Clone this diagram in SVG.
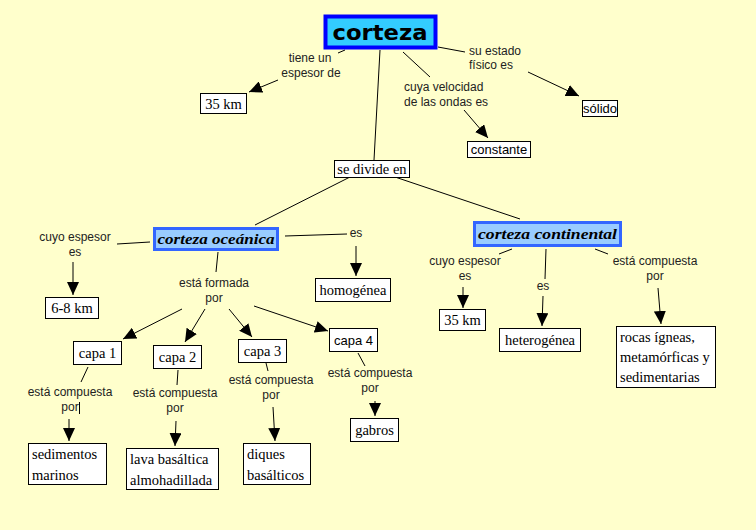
<svg xmlns="http://www.w3.org/2000/svg" width="756" height="530" viewBox="0 0 756 530">
<defs>
<marker id="ah" markerUnits="userSpaceOnUse" markerWidth="14" markerHeight="12" refX="13" refY="6" orient="auto">
<path d="M0,0 L13,6 L0,12 z" fill="#000"/>
</marker>
<style>
.lbl{font-family:"Liberation Sans",Arial,sans-serif;font-size:12px;fill:#222;text-anchor:middle}
.lbs{font-family:"Liberation Sans",Arial,sans-serif;font-size:12px;fill:#222}
.box{fill:#fff;stroke:#000;stroke-width:1}
.bt{font-family:"Liberation Serif","Times New Roman",serif;font-size:14.5px;fill:#000;text-anchor:middle}
.bts{font-family:"Liberation Sans",Arial,sans-serif;font-size:13px;fill:#000;text-anchor:middle}
.mt{font-family:"Liberation Serif","Times New Roman",serif;font-size:14.5px;fill:#000}
.sub{fill:#99CCFF;stroke:#3366FF;stroke-width:3}
.subt{font-family:"Liberation Serif","Times New Roman",serif;font-size:15px;font-weight:bold;font-style:italic;fill:#000;text-anchor:middle}
.c{stroke:#000;stroke-width:1;fill:none}
.a{stroke:#000;stroke-width:1;fill:none;marker-end:url(#ah)}
</style>
</defs>
<rect width="756" height="530" fill="#FFFFCC"/>

<g id="connectors">
<!-- corteza links -->
<line class="c" x1="345" y1="50" x2="338" y2="53"/>
<line class="a" x1="278" y1="80" x2="249" y2="92"/>
<line class="c" x1="380" y1="50" x2="374" y2="160"/>
<line class="c" x1="403" y1="52" x2="430" y2="77"/>
<line class="a" x1="464" y1="110" x2="488" y2="138"/>
<line class="c" x1="438" y1="47" x2="465" y2="52"/>
<line class="a" x1="528" y1="72" x2="579" y2="96"/>
<!-- se divide en -->
<line class="c" x1="350" y1="177" x2="255" y2="225"/>
<line class="c" x1="395" y1="177" x2="520" y2="219"/>
<!-- oceanica -->
<line class="c" x1="150" y1="242" x2="117" y2="244"/>
<line class="a" x1="73" y1="262" x2="73" y2="295"/>
<line class="c" x1="285" y1="236" x2="347" y2="234"/>
<line class="a" x1="356" y1="246" x2="356" y2="276"/>
<line class="c" x1="218" y1="252" x2="216" y2="272"/>
<line class="a" x1="182" y1="309" x2="123" y2="339"/>
<line class="a" x1="205" y1="309" x2="185" y2="342"/>
<line class="a" x1="229" y1="309" x2="252" y2="337"/>
<line class="a" x1="254" y1="306" x2="328" y2="331"/>
<!-- capas -->
<line class="c" x1="88" y1="367" x2="81" y2="382"/>
<line class="a" x1="69" y1="419" x2="69" y2="441"/>
<line class="c" x1="178" y1="370" x2="177" y2="385"/>
<line class="a" x1="176" y1="421" x2="175" y2="446"/>
<line class="c" x1="266" y1="363" x2="268" y2="371"/>
<line class="a" x1="273" y1="407" x2="275" y2="441"/>
<line class="c" x1="358" y1="353" x2="365" y2="366"/>
<line class="a" x1="375" y1="401" x2="375" y2="416"/>
<!-- continental -->
<line class="c" x1="512" y1="249" x2="499" y2="254"/>
<line class="a" x1="463" y1="287" x2="463" y2="308"/>
<line class="c" x1="546" y1="249" x2="545" y2="279"/>
<line class="a" x1="543" y1="296" x2="542" y2="326"/>
<line class="c" x1="595" y1="249" x2="608" y2="254"/>
<line class="a" x1="658" y1="288" x2="661" y2="324"/>
<!-- text cursor -->
<line x1="79.5" y1="402" x2="79.5" y2="414" stroke="#000" stroke-width="1"/>
</g>

<g id="labels">
<text class="lbl" x="310" y="62">tiene un</text>
<text class="lbl" x="311" y="77">espesor de</text>
<text class="lbs" x="404" y="91">cuya velocidad</text>
<text class="lbs" x="404" y="106">de las ondas es</text>
<text class="lbs" x="469" y="55">su estado</text>
<text class="lbs" x="469" y="69">físico es</text>
<text class="lbl" x="75" y="241">cuyo espesor</text>
<text class="lbl" x="75" y="256">es</text>
<text class="lbl" x="356" y="237">es</text>
<text class="lbl" x="214" y="287">está formada</text>
<text class="lbl" x="214" y="302">por</text>
<text class="lbl" x="70" y="396">está compuesta</text>
<text class="lbl" x="70" y="411">por</text>
<text class="lbl" x="175" y="397">está compuesta</text>
<text class="lbl" x="175" y="412">por</text>
<text class="lbl" x="271" y="384">está compuesta</text>
<text class="lbl" x="271" y="399">por</text>
<text class="lbl" x="370" y="377">está compuesta</text>
<text class="lbl" x="370" y="392">por</text>
<text class="lbl" x="465" y="265">cuyo espesor</text>
<text class="lbl" x="465" y="280">es</text>
<text class="lbl" x="543" y="290">es</text>
<text class="lbl" x="655" y="265">está compuesta</text>
<text class="lbl" x="655" y="280">por</text>
</g>

<g id="corteza">
<rect x="325.5" y="16.5" width="110" height="31" fill="#33CCFF" stroke="#0000FF" stroke-width="4"/>
<text x="380" y="40" font-family="'DejaVu Sans',sans-serif" font-weight="bold" font-size="22" text-anchor="middle" textLength="95" lengthAdjust="spacingAndGlyphs">corteza</text>
</g>

<g id="n35km"><rect class="box" x="200.5" y="93.5" width="46" height="20"/><text class="bt" x="223.5" y="109">35 km</text></g>
<g id="constante"><rect class="box" x="467.5" y="141.5" width="63" height="16"/><text class="bts" x="499" y="154">constante</text></g>
<g id="solido"><rect class="box" x="582.5" y="100.5" width="35" height="16"/><text class="bts" x="600" y="113">sólido</text></g>
<g id="sedivide"><rect class="box" x="334.5" y="160.5" width="75" height="17"/><text class="bt" x="372" y="174">se divide en</text></g>

<g id="oceanica">
<rect class="sub" x="154.5" y="228.5" width="123" height="21"/>
<text class="subt" x="216" y="244" textLength="117" lengthAdjust="spacingAndGlyphs">corteza oceánica</text>
</g>
<g id="continental">
<rect class="sub" x="474.5" y="222.5" width="146" height="23"/>
<text class="subt" x="547.5" y="239" textLength="139" lengthAdjust="spacingAndGlyphs">corteza continental</text>
</g>

<g id="n68km"><rect class="box" x="45.5" y="297.5" width="53" height="21"/><text class="bt" x="72" y="313">6-8 km</text></g>
<g id="homogenea"><rect class="box" x="315.5" y="278.5" width="75" height="23"/><text class="bt" x="353" y="295">homogénea</text></g>
<g id="capa1"><rect class="box" x="73.5" y="341.5" width="48" height="23"/><text class="bt" x="97.5" y="358">capa 1</text></g>
<g id="capa2"><rect class="box" x="153.5" y="345.5" width="48" height="23"/><text class="bt" x="177.5" y="362">capa 2</text></g>
<g id="capa3"><rect class="box" x="238.5" y="339.5" width="48" height="23"/><text class="bt" x="262.5" y="356">capa 3</text></g>
<g id="capa4"><rect class="box" x="329.5" y="328.5" width="48" height="23"/><text class="bts" x="353.5" y="345">capa 4</text></g>
<g id="sedimentos"><rect class="box" x="28.5" y="443.5" width="78" height="41"/><text class="mt" x="32" y="459">sedimentos</text><text class="mt" x="32" y="480">marinos</text></g>
<g id="lava"><rect class="box" x="126.5" y="448.5" width="92" height="41"/><text class="mt" x="130" y="464">lava basáltica</text><text class="mt" x="130" y="485">almohadillada</text></g>
<g id="diques"><rect class="box" x="243.5" y="443.5" width="67" height="41"/><text class="mt" x="247" y="459">diques</text><text class="mt" x="247" y="480">basálticos</text></g>
<g id="gabros"><rect class="box" x="350.5" y="418.5" width="48" height="23"/><text class="bt" x="374.5" y="435">gabros</text></g>
<g id="n35kmc"><rect class="box" x="439.5" y="309.5" width="46" height="21"/><text class="bt" x="462.5" y="325">35 km</text></g>
<g id="heterogenea"><rect class="box" x="499.5" y="328.5" width="81" height="23"/><text class="bt" x="540" y="345">heterogénea</text></g>
<g id="rocas"><rect class="box" x="616.5" y="326.5" width="99" height="61"/><text class="mt" x="620" y="342">rocas ígneas,</text><text class="mt" x="620" y="362">metamórficas y</text><text class="mt" x="620" y="382">sedimentarias</text></g>
</svg>
